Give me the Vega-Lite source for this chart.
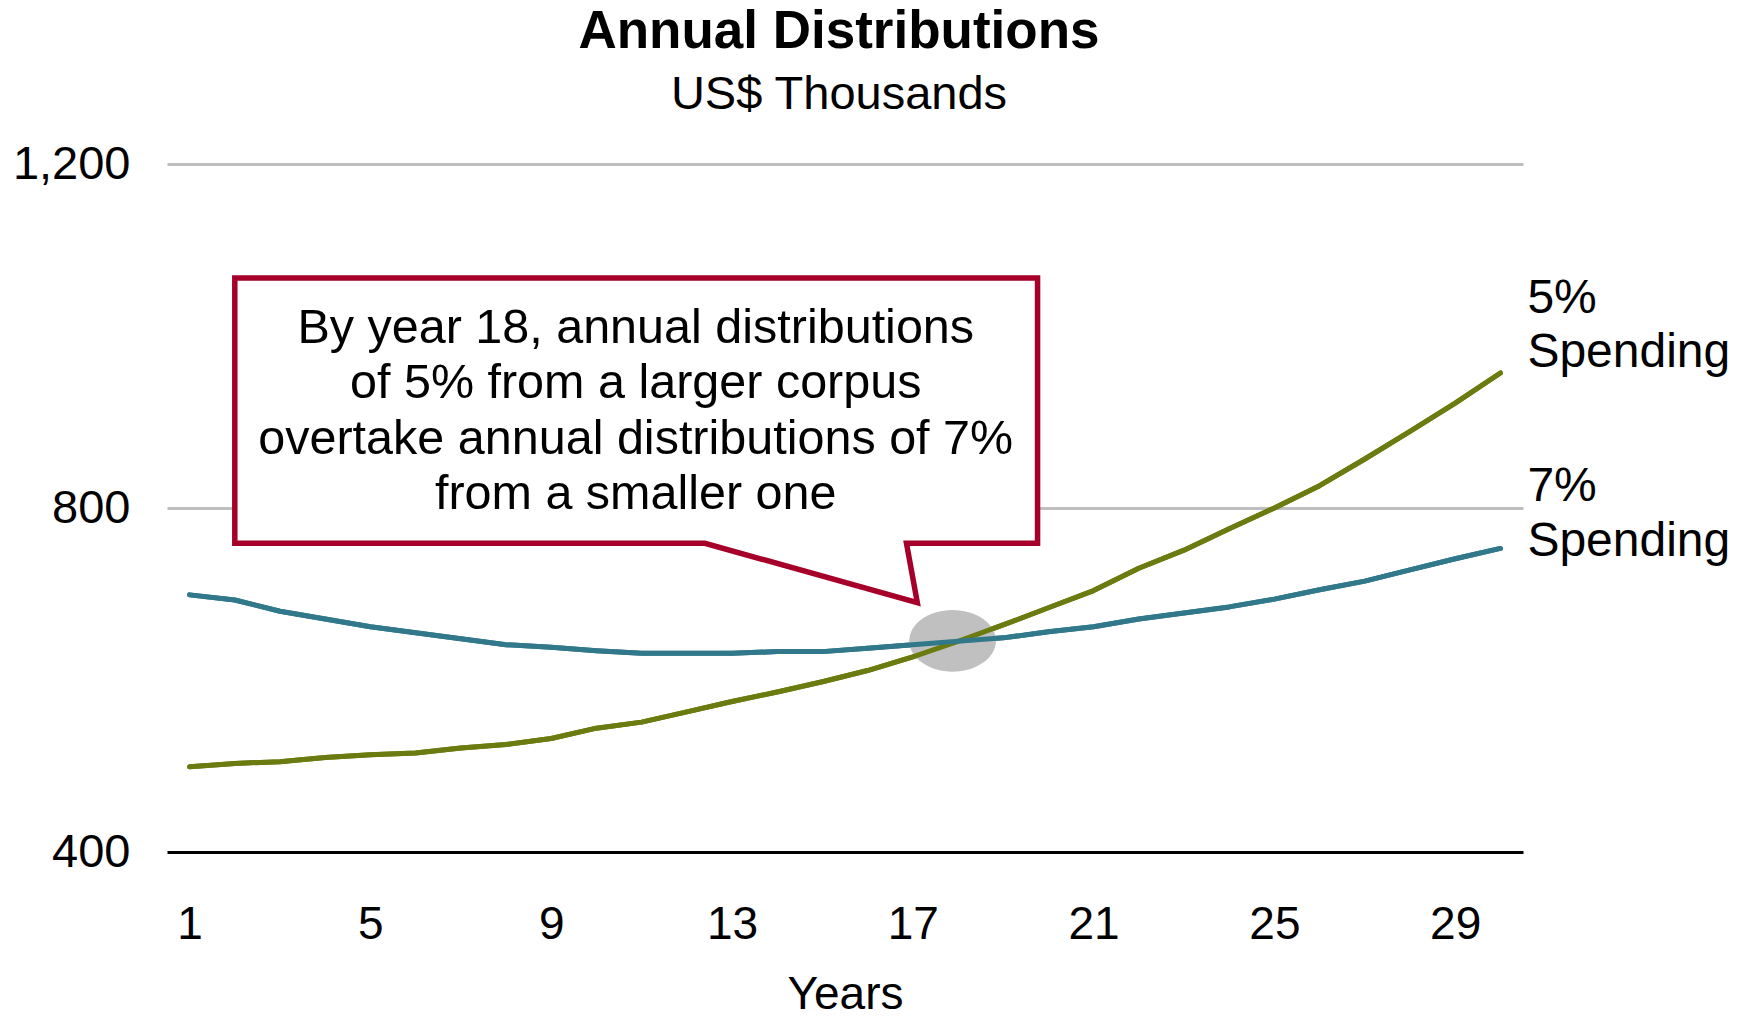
{
  "$schema": "https://vega.github.io/schema/vega-lite/v6.json",
  "width": 1356,
  "height": 688,
  "autosize": {"type": "none"},
  "padding": {"left": 167, "top": 164, "right": 227, "bottom": 165},
  "background": "white",
  "config": {"view": {"stroke": null}, "font": "Liberation Sans"},
  "title": {
    "text": "Annual Distributions",
    "subtitle": "US$ Thousands",
    "anchor": "middle",
    "frame": "group",
    "font": "Liberation Sans",
    "subtitleFont": "Liberation Sans",
    "fontSize": 53,
    "fontWeight": "bold",
    "subtitleFontSize": 47,
    "color": "black",
    "subtitleColor": "black",
    "subtitlePadding": 13,
    "offset": 22,
    "dx": -6
  },
  "datasets": {
    "series": [
      {"year": 1, "series": "5% Spending", "value": 499},
      {"year": 2, "series": "5% Spending", "value": 503},
      {"year": 3, "series": "5% Spending", "value": 505},
      {"year": 4, "series": "5% Spending", "value": 510},
      {"year": 5, "series": "5% Spending", "value": 513},
      {"year": 6, "series": "5% Spending", "value": 515},
      {"year": 7, "series": "5% Spending", "value": 521},
      {"year": 8, "series": "5% Spending", "value": 525},
      {"year": 9, "series": "5% Spending", "value": 532},
      {"year": 10, "series": "5% Spending", "value": 544},
      {"year": 11, "series": "5% Spending", "value": 551},
      {"year": 12, "series": "5% Spending", "value": 563},
      {"year": 13, "series": "5% Spending", "value": 575},
      {"year": 14, "series": "5% Spending", "value": 586},
      {"year": 15, "series": "5% Spending", "value": 598},
      {"year": 16, "series": "5% Spending", "value": 611},
      {"year": 17, "series": "5% Spending", "value": 627},
      {"year": 18, "series": "5% Spending", "value": 645},
      {"year": 19, "series": "5% Spending", "value": 664},
      {"year": 20, "series": "5% Spending", "value": 684},
      {"year": 21, "series": "5% Spending", "value": 704},
      {"year": 22, "series": "5% Spending", "value": 730},
      {"year": 23, "series": "5% Spending", "value": 751},
      {"year": 24, "series": "5% Spending", "value": 776},
      {"year": 25, "series": "5% Spending", "value": 800},
      {"year": 26, "series": "5% Spending", "value": 826},
      {"year": 27, "series": "5% Spending", "value": 857},
      {"year": 28, "series": "5% Spending", "value": 889},
      {"year": 29, "series": "5% Spending", "value": 922},
      {"year": 30, "series": "5% Spending", "value": 957},
      {"year": 1, "series": "7% Spending", "value": 699},
      {"year": 2, "series": "7% Spending", "value": 693},
      {"year": 3, "series": "7% Spending", "value": 680},
      {"year": 4, "series": "7% Spending", "value": 671},
      {"year": 5, "series": "7% Spending", "value": 662},
      {"year": 6, "series": "7% Spending", "value": 655},
      {"year": 7, "series": "7% Spending", "value": 648},
      {"year": 8, "series": "7% Spending", "value": 641},
      {"year": 9, "series": "7% Spending", "value": 638},
      {"year": 10, "series": "7% Spending", "value": 634},
      {"year": 11, "series": "7% Spending", "value": 631},
      {"year": 12, "series": "7% Spending", "value": 631},
      {"year": 13, "series": "7% Spending", "value": 631},
      {"year": 14, "series": "7% Spending", "value": 633},
      {"year": 15, "series": "7% Spending", "value": 633},
      {"year": 16, "series": "7% Spending", "value": 637},
      {"year": 17, "series": "7% Spending", "value": 641},
      {"year": 18, "series": "7% Spending", "value": 645},
      {"year": 19, "series": "7% Spending", "value": 649},
      {"year": 20, "series": "7% Spending", "value": 656},
      {"year": 21, "series": "7% Spending", "value": 662},
      {"year": 22, "series": "7% Spending", "value": 671},
      {"year": 23, "series": "7% Spending", "value": 678},
      {"year": 24, "series": "7% Spending", "value": 685},
      {"year": 25, "series": "7% Spending", "value": 694},
      {"year": 26, "series": "7% Spending", "value": 705},
      {"year": 27, "series": "7% Spending", "value": 715},
      {"year": 28, "series": "7% Spending", "value": 728},
      {"year": 29, "series": "7% Spending", "value": 741},
      {"year": 30, "series": "7% Spending", "value": 753}
    ],
    "callout": [
      {"o": 1, "year": 2.0, "value": 1067.4},
      {"o": 2, "year": 19.76, "value": 1067.4},
      {"o": 3, "year": 19.76, "value": 759},
      {"o": 4, "year": 16.86, "value": 759},
      {"o": 5, "year": 17.1, "value": 690},
      {"o": 6, "year": 12.4, "value": 759},
      {"o": 7, "year": 2.0, "value": 759},
      {"o": 8, "year": 2.0, "value": 1067.4}
    ],
    "one": [{}]
  },
  "layer": [
    {
      "data": {"name": "series"},
      "mark": {"type": "line", "strokeWidth": 5, "strokeCap": "round", "strokeJoin": "round"},
      "encoding": {
        "x": {
          "field": "year",
          "type": "quantitative",
          "scale": {"domain": [0.5, 30.5], "nice": false, "zero": false},
          "axis": {
            "values": [1, 5, 9, 13, 17, 21, 25, 29],
            "title": "Years",
            "grid": false,
            "domain": false,
            "ticks": false,
            "tickSize": 0,
            "labelFontSize": 46,
            "labelColor": "black",
            "labelPadding": 50,
            "labelFont": "Liberation Sans",
            "titleFont": "Liberation Sans",
            "titleFontSize": 46,
            "titleFontWeight": "normal",
            "titleColor": "black",
            "titlePadding": 25
          }
        },
        "y": {
          "field": "value",
          "type": "quantitative",
          "scale": {"domain": [400, 1200], "nice": false, "zero": false},
          "axis": {
            "values": [400, 800, 1200],
            "format": ",.0f",
            "title": null,
            "domain": false,
            "ticks": false,
            "tickSize": 0,
            "labelFontSize": 47,
            "labelColor": "black",
            "labelPadding": 37,
            "labelFont": "Liberation Sans",
            "grid": true,
            "gridWidth": 3,
            "gridColor": {"condition": {"test": "datum.value === 400", "value": "#000000"}, "value": "#BFBFBF"}
          }
        },
        "color": {
          "field": "series",
          "type": "nominal",
          "scale": {"domain": ["5% Spending", "7% Spending"], "range": ["#6B7B0F", "#31788B"]},
          "legend": null
        }
      }
    },
    {
      "data": {"name": "one"},
      "mark": {"type": "point", "filled": true, "fill": "#C0C0C0", "opacity": 1, "strokeWidth": 0, "size": 7517,
        "shape": "M-1,0A1,0.712,0,1,1,1,0A1,0.712,0,1,1,-1,0Z"},
      "encoding": {
        "x": {"datum": 17.88, "type": "quantitative"},
        "y": {"datum": 645.6, "type": "quantitative"}
      }
    },
    {
      "data": {"name": "series"},
      "mark": {"type": "line", "strokeWidth": 5, "strokeCap": "round", "strokeJoin": "round"},
      "encoding": {
        "x": {"field": "year", "type": "quantitative"},
        "y": {"field": "value", "type": "quantitative"},
        "color": {"field": "series", "type": "nominal", "legend": null}
      }
    },
    {
      "data": {"name": "series"},
      "transform": [{"filter": "datum.year === 30 && datum.series === '5% Spending'"}],
      "mark": {"type": "text", "align": "left", "baseline": "alphabetic", "fontSize": 48, "lineBreak": " ", "lineHeight": 54.5, "dx": 27, "dy": -60, "color": "black", "font": "Liberation Sans"},
      "encoding": {
        "x": {"field": "year", "type": "quantitative"},
        "y": {"field": "value", "type": "quantitative"},
        "text": {"field": "series"}
      }
    },
    {
      "data": {"name": "series"},
      "transform": [{"filter": "datum.year === 30 && datum.series === '7% Spending'"}],
      "mark": {"type": "text", "align": "left", "baseline": "alphabetic", "fontSize": 48, "lineBreak": " ", "lineHeight": 54.5, "dx": 27, "dy": -47, "color": "black", "font": "Liberation Sans"},
      "encoding": {
        "x": {"field": "year", "type": "quantitative"},
        "y": {"field": "value", "type": "quantitative"},
        "text": {"field": "series"}
      }
    },
    {
      "data": {"name": "one"},
      "mark": {"type": "rect", "fill": "white", "strokeWidth": 0},
      "encoding": {
        "x": {"datum": 2.0, "type": "quantitative"},
        "x2": {"datum": 19.76},
        "y": {"datum": 1067.4, "type": "quantitative"},
        "y2": {"datum": 759}
      }
    },
    {
      "data": {"name": "callout"},
      "mark": {"type": "line", "color": "#A6002A", "strokeWidth": 5.5, "strokeJoin": "miter", "strokeCap": "square"},
      "encoding": {
        "x": {"field": "year", "type": "quantitative"},
        "y": {"field": "value", "type": "quantitative"},
        "order": {"field": "o", "type": "quantitative"}
      }
    },
    {
      "data": {"name": "one"},
      "mark": {"type": "text", "align": "center", "baseline": "alphabetic", "fontSize": 48.5, "lineHeight": 55.5, "color": "black", "font": "Liberation Sans",
        "text": ["By year 18, annual distributions", "of 5% from a larger corpus", "overtake annual distributions of 7%", "from a smaller one"]},
      "encoding": {
        "x": {"datum": 10.87, "type": "quantitative"},
        "y": {"datum": 991.9, "type": "quantitative"}
      }
    }
  ]
}
